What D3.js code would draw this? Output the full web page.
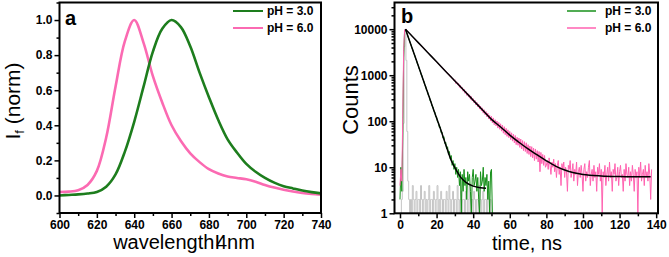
<!DOCTYPE html>
<html>
<head>
<meta charset="utf-8">
<title>Spectra and decays</title>
<script src="https://cdn.jsdelivr.net/npm/d3@7"></script>
<style>
  body { margin: 0; background: #fff; }
  svg { display: block; font-family: "Liberation Sans", Arial, sans-serif; }
  .axis path.domain { display: none; }
  .axis line { stroke: #000; stroke-width: 1.5; }
  .axis text { font-family: "Liberation Sans", Arial, sans-serif; font-weight: bold; font-size: 12px; fill: #000; }
  .legend { font-weight: bold; font-size: 12px; }
</style>
</head>
<body>
<svg id="svg" width="669" height="257"></svg>
<script>
// ---- panel a: normalised emission spectra ----
var wavelengths = [600, 605, 610, 615, 620, 625, 630, 635, 640, 645, 650, 655, 660, 665, 670,
                   675, 680, 685, 690, 695, 700, 705, 710, 715, 720, 725, 730, 735, 740];
var specPH3 = [0.0, 0.003, 0.006, 0.011, 0.02, 0.05, 0.12, 0.25, 0.42, 0.62, 0.82, 0.95, 1.0, 0.96, 0.85,
               0.70, 0.56, 0.43, 0.32, 0.245, 0.18, 0.135, 0.1, 0.073, 0.053, 0.04, 0.028, 0.019, 0.012];
var specPH6 = [0.02, 0.022, 0.03, 0.06, 0.14, 0.33, 0.62, 0.88, 1.0, 0.87, 0.68, 0.53, 0.40, 0.31, 0.24,
               0.19, 0.15, 0.125, 0.108, 0.1, 0.092, 0.078, 0.06, 0.045, 0.033, 0.023, 0.014, 0.008, 0.004];
var xTicksA = [600, 620, 640, 660, 680, 700, 720, 740];
var yTicksA = [0, 0.2, 0.4, 0.6, 0.8, 1.0];

// ---- panel b: fluorescence decays, 0.5 ns per channel ----
var CHANNEL_NS = 0.5;
var decayPH6 = [
  4, 9, 5, 120, 3500, 9600, 10000, 9480, 9150, 8590,
  8300, 7820, 7560, 7100, 6850, 6440, 6230, 5860, 5660, 5310,
  5150, 4830, 4680, 4380, 4250, 3980, 3870, 3610, 3510, 3290,
  3190, 2980, 2900, 2710, 2640, 2460, 2400, 2230, 2180, 2020,
  1990, 1830, 1810, 1660, 1640, 1510, 1500, 1370, 1360, 1240,
  1240, 1120, 1130, 1020, 1030, 920, 940, 840, 850, 760,
  800, 660, 720, 610, 665, 545, 600, 500, 545, 450,
  500, 405, 450, 365, 410, 335, 375, 300, 345, 275,
  310, 250, 285, 225, 258, 205, 236, 184, 214, 168,
  195, 150, 178, 138, 163, 124, 150, 112, 136, 101,
  128, 92, 118, 84, 108, 79, 101, 71, 94, 67,
  88, 61, 82, 55, 76, 51, 70, 47, 65, 44,
  60, 40, 56, 37, 52, 34, 49, 31, 45, 30,
  43, 27, 41, 25, 38, 23, 36, 22, 34, 20,
  31, 19, 29, 17, 28, 16, 26, 14, 25, 15,
  23, 13, 22, 8, 21, 12, 19, 11, 18, 10,
  11, 14, 9, 16, 11, 7, 13, 10, 15, 8,
  12, 6, 11, 14, 7, 10, 4, 12, 9, 13,
  6, 10, 8, 3, 11, 9, 14, 6, 8, 12,
  5, 9, 7, 13, 4, 8, 10, 6, 11, 7,
  3, 9, 12, 5, 8, 6, 10, 14, 4, 7,
  9, 5, 11, 6, 8, 3, 10, 7, 12, 5,
  9, 1, 8, 6, 11, 4, 7, 10, 5, 13,
  6, 8, 3, 9, 7, 12, 5, 6, 10, 4,
  8, 11, 6, 7, 3, 9, 5, 12, 7, 6,
  10, 4, 8, 5, 11, 7, 3, 9, 6, 8,
  1, 10, 6, 13, 5, 7, 9, 4, 11, 6,
  8, 5, 12, 7, 2, 9
];
var decayPH3 = [
  2, 10, 3, 45, 2400, 8900, 10000, 8690, 7760, 6700,
  5990, 5140, 4610, 3950, 3560, 3030, 2740, 2330, 2110, 1790,
  1630, 1370, 1260, 1050, 975, 810, 752, 620, 580, 476,
  447, 366, 345, 280, 266, 214, 206, 164, 160, 125,
  124, 96, 95, 73, 75, 56, 58, 43, 46, 33,
  35, 25, 28, 19, 22, 15, 18, 11, 14, 9,
  12, 7, 10, 6, 9, 4, 8, 1, 7, 3,
  9, 4, 6, 2, 8, 5, 7, 3, 1, 6,
  9, 4, 5, 7, 3, 6, 2, 1, 8, 4,
  5, 10, 3, 6, 4, 7, 2, 5, 1, 8,
  9, 1
];
var irf = [
  1, 1, 2, 3, 90, 4200, 9800, 2100, 60, 5,
  2, 1, 2, 1, 4, 2, 1, 2, 3, 1,
  2, 2, 1, 4, 2, 1, 2, 3, 1, 2,
  1, 2, 4, 1, 2, 2, 1, 3, 2, 1,
  2, 4, 1, 2, 1, 3, 2, 1, 2, 2,
  1, 3, 2, 1, 4, 2, 1, 2, 3, 1,
  2, 2, 1, 4, 2, 1, 2, 3, 1, 2,
  2, 1, 3, 2, 1, 2, 4, 1, 2, 2,
  1, 3, 2, 1, 2, 2, 1, 4, 2, 1,
  2, 3, 1, 2, 2, 1, 3, 2, 1, 2,
  1
];
var fitTimePH6 = [3, 5, 10, 15, 20, 25, 30, 35, 40, 45, 50, 55, 60, 65, 70, 75, 80, 85, 90, 95, 100, 110, 120, 130, 137];
var fitPH6 = [10000, 8250, 5110, 3160, 1960, 1210, 750, 465, 287, 177, 110, 75, 50, 35, 25, 18.5, 13.8, 10.6, 8.7, 7.6, 7.0, 6.5, 6.3, 6.2, 6.2];
var fitTimePH3 = [3, 5, 8, 10, 12, 15, 18, 20, 22, 25, 28, 30, 33, 36, 40, 44, 47];
var fitPH3 = [10000, 5930, 2700, 1600, 950, 433, 197, 117, 70, 31, 14, 9.8, 6.2, 4.7, 3.9, 3.6, 3.5];
var xTicksB = [0, 20, 40, 60, 80, 100, 120, 140];
var yTicksB = [1, 10, 100, 1000, 10000];

var GREEN_A = "#1d7d1d", PINK_A = "#fb6ab2";
var GREEN_B = "#17901a", PINK_B = "#ff62b0", GREY = "#c4c4c4";

var svg = d3.select("#svg");

function frame(x0, x1, y0, y1) {
    svg.append("rect")
       .attr("x", x0).attr("y", y0)
       .attr("width", x1 - x0).attr("height", y1 - y0)
       .attr("fill", "none").attr("stroke", "#000").attr("stroke-width", 2);
}

// ================= panel a =================
var xA = d3.scaleLinear().domain([600, 740]).range([59.5, 321]);
var yA = d3.scaleLinear().domain([-0.1, 1.1]).range([213, 2.5]);

svg.append("g").attr("class", "axis")
   .attr("transform", "translate(0,213)")
   .call(d3.axisBottom(xA).tickValues(xTicksA.slice(0, -1).map(function(v){ return v + 10; }))
         .tickSize(3).tickFormat(""));
svg.append("g").attr("class", "axis")
   .attr("transform", "translate(0,213)")
   .call(d3.axisBottom(xA).tickValues(xTicksA).tickSize(5).tickPadding(2));
svg.append("g").attr("class", "axis")
   .attr("transform", "translate(59.5,0)")
   .call(d3.axisLeft(yA).tickValues([-0.1].concat(yTicksA.map(function(v){ return v + 0.1; })))
         .tickSize(3).tickFormat(""));
svg.append("g").attr("class", "axis")
   .attr("transform", "translate(59.5,0)")
   .call(d3.axisLeft(yA).tickValues(yTicksA).tickSize(5).tickPadding(2).tickFormat(d3.format(".1f")));

var lineA = d3.line()
    .x(function(d, i){ return xA(wavelengths[i]); })
    .y(function(d){ return yA(d); })
    .curve(d3.curveCatmullRom.alpha(0.5));

svg.append("path").datum(specPH6).attr("d", lineA)
   .attr("fill", "none").attr("stroke", PINK_A).attr("stroke-width", 2.6);
svg.append("path").datum(specPH3).attr("d", lineA)
   .attr("fill", "none").attr("stroke", GREEN_A).attr("stroke-width", 2.6);

frame(59.5, 321, 2.5, 213);

svg.append("text").attr("x", 65).attr("y", 25)
   .attr("font-weight", "bold").attr("font-size", 20).text("a");

var legA = [["pH = 3.0", GREEN_A, 11], ["pH = 6.0", PINK_A, 28]];
legA.forEach(function(l){
    svg.append("line").attr("x1", 233).attr("x2", 263).attr("y1", l[2]).attr("y2", l[2])
       .attr("stroke", l[1]).attr("stroke-width", 2);
    svg.append("text").attr("class", "legend").attr("x", 267).attr("y", l[2] + 4.3).text(l[0]);
});

svg.append("text")
   .attr("transform", "translate(20,101) rotate(-90)")
   .attr("text-anchor", "middle").attr("font-size", 21)
   .call(function(t){
       t.append("tspan").text("I");
       t.append("tspan").attr("font-size", 13).attr("dy", 4).text("f");
       t.append("tspan").attr("dy", -4).text(" (norm)");
   });

// the "I4" glyphs overlap in the original label
svg.append("text")
   .attr("x", 184).attr("y", 249).attr("text-anchor", "middle").attr("font-size", 20)
   .attr("dx", "0 0 0 0 0 0 0 0 0 0 0 -4")
   .text("wavelengthI4nm");

// ================= panel b =================
var xB = d3.scaleLinear().domain([-3, 141]).range([394.5, 658]);
var yB = d3.scaleLog().domain([1, 38000]).range([213.3, 2.5]);

var minorB = [];
yTicksB.forEach(function(m){
    for (var k = 2; k <= 9; k++) { if (m * k <= 38000) minorB.push(m * k); }
});

svg.append("g").attr("class", "axis")
   .attr("transform", "translate(0,213.3)")
   .call(d3.axisBottom(xB).tickValues(xTicksB.slice(0, -1).map(function(v){ return v + 10; }))
         .tickSize(3).tickFormat(""));
svg.append("g").attr("class", "axis")
   .attr("transform", "translate(0,213.3)")
   .call(d3.axisBottom(xB).tickValues(xTicksB).tickSize(5).tickPadding(2));
svg.append("g").attr("class", "axis")
   .attr("transform", "translate(394.5,0)")
   .call(d3.axisLeft(yB).tickValues(minorB).tickSize(3).tickFormat(""));
svg.append("g").attr("class", "axis")
   .attr("transform", "translate(394.5,0)")
   .call(d3.axisLeft(yB).tickValues(yTicksB).tickSize(5).tickPadding(2).tickFormat(d3.format("d")));

svg.append("clipPath").attr("id", "clipB")
   .append("rect").attr("x", 394.5).attr("y", 2.5).attr("width", 263.5).attr("height", 210.8);

var plotB = svg.append("g").attr("clip-path", "url(#clipB)");

var decayLine = d3.line()
    .x(function(d, i){ return xB(i * CHANNEL_NS); })
    .y(function(d){ return yB(d); });

plotB.append("path").datum(irf).attr("d", decayLine.curve(d3.curveStep))
     .attr("fill", "none").attr("stroke", GREY).attr("stroke-width", 1);
decayLine.curve(d3.curveLinear);
plotB.append("path").datum(decayPH3).attr("d", decayLine)
     .attr("fill", "none").attr("stroke", GREEN_B).attr("stroke-width", 1);
plotB.append("path").datum(decayPH6).attr("d", decayLine)
     .attr("fill", "none").attr("stroke", PINK_B).attr("stroke-width", 1);

var fitLine = function(times){
    return d3.line()
        .x(function(d, i){ return xB(times[i]); })
        .y(function(d){ return yB(d); })
        .curve(d3.curveMonotoneX);
};
plotB.append("path").datum(fitPH3).attr("d", fitLine(fitTimePH3))
     .attr("fill", "none").attr("stroke", "#000").attr("stroke-width", 1.5);
plotB.append("path").datum(fitPH6).attr("d", fitLine(fitTimePH6))
     .attr("fill", "none").attr("stroke", "#000").attr("stroke-width", 1.5);

frame(394.5, 658, 2.5, 213.3);

svg.append("text").attr("x", 401).attr("y", 22.5)
   .attr("font-weight", "bold").attr("font-size", 20).text("b");

var legB = [["pH = 3.0", GREEN_B, 11], ["pH = 6.0", PINK_B, 28]];
legB.forEach(function(l){
    svg.append("line").attr("x1", 567).attr("x2", 596).attr("y1", l[2]).attr("y2", l[2])
       .attr("stroke", l[1]).attr("stroke-width", 1.5);
    svg.append("text").attr("class", "legend").attr("x", 605).attr("y", l[2] + 4.3).text(l[0]);
});

svg.append("text")
   .attr("transform", "translate(358,100) rotate(-90)")
   .attr("text-anchor", "middle").attr("font-size", 22).text("Counts");

svg.append("text")
   .attr("x", 527).attr("y", 250).attr("text-anchor", "middle").attr("font-size", 20)
   .text("time, ns");
</script>
</body>
</html>
